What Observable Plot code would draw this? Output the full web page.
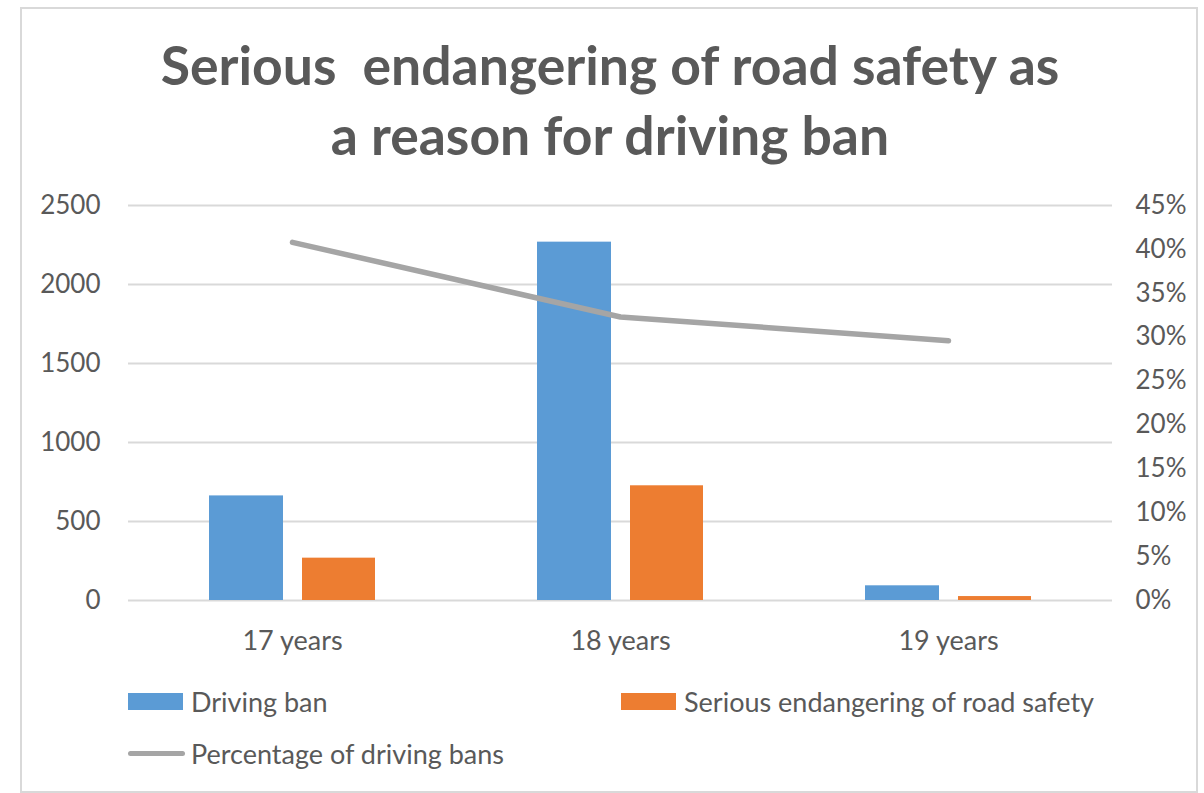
<!DOCTYPE html>
<html>
<head>
<meta charset="utf-8">
<script src="https://cdn.jsdelivr.net/npm/d3@7"></script>
<script src="https://cdn.jsdelivr.net/npm/@observablehq/plot@0.6"></script>
<style>
  html, body { margin: 0; padding: 0; background: #fff; }
  #wrap { position: relative; width: 1204px; height: 793px; overflow: hidden; font-family: Lato, "Open Sans", sans-serif; color: #595959; }
  #frame { position: absolute; left: 20px; top: 7px; width: 1178px; height: 786px; box-sizing: border-box; border: 2px solid #d9d9d9; }
  #title { position: absolute; left: 0; top: 29px; width: 1220px; text-align: center; font-weight: 700; font-size: 53.5px; line-height: 70px; white-space: pre; color: #595959; }
  #chart { position: absolute; left: 0; top: 170px; }
  .leg { position: absolute; display: flex; align-items: center; font-size: 27px; color: #595959; white-space: nowrap; }
  .sw { width: 55px; height: 17px; margin-right: 8px; }
  .ln { width: 57px; height: 5px; border-radius: 3px; margin-right: 6px; }
</style>
</head>
<body>
<div id="wrap">
  <div id="frame"></div>
  <div id="title"></div>
  <div id="chart"></div>
  <div id="legend"></div>
</div>
<script>
const titleLines = ["Serious  endangering of road safety as", "a reason for driving ban"];
const categories = ["17 years", "18 years", "19 years"];
const drivingBan = [662, 2268, 93];
const seriousEndangering = [268, 726, 25];
const pctDrivingBans = [0.408, 0.323, 0.296];
const leftTicks = [0, 500, 1000, 1500, 2000, 2500];
const rightTicks = [0, 0.05, 0.10, 0.15, 0.20, 0.25, 0.30, 0.35, 0.40, 0.45];
const seriesNames = ["Driving ban", "Serious endangering of road safety", "Percentage of driving bans"];
const seriesColors = ["#5B9BD5", "#ED7D31", "#A5A5A5"];

const leftMax = 2500, rightMax = 0.45;
const k = leftMax / rightMax;

const rows = categories.map((c, i) => ({cat: c, ban: drivingBan[i], serious: seriousEndangering[i], pct: pctDrivingBans[i]}));

document.getElementById("title").textContent = titleLines.join("\n");

const chart = Plot.plot({
  width: 1204,
  height: 500,
  marginTop: 35,
  marginBottom: 70,
  marginLeft: 128,
  marginRight: 92,
  style: {fontFamily: "Lato, 'Open Sans', sans-serif", fontSize: "26px", color: "#595959", background: "transparent"},
  x: {type: "band", domain: categories, padding: 0},
  y: {domain: [0, leftMax]},
  marks: [
    Plot.ruleY(leftTicks, {stroke: "#d9d9d9", strokeWidth: 2}),
    Plot.barY(rows, {x: "cat", y: "ban", fill: seriesColors[0], insetLeft: 81, insetRight: 173}),
    Plot.barY(rows, {x: "cat", y: "serious", fill: seriesColors[1], insetLeft: 174, insetRight: 81}),
    Plot.lineY(rows, {x: "cat", y: d => d.pct * k, stroke: seriesColors[2], strokeWidth: 5.5, strokeLinecap: "round", strokeLinejoin: "round"}),
    Plot.axisY({ticks: leftTicks, tickFormat: d => String(d), tickSize: 0, tickPadding: 28, label: null, fontSize: 26}),
    Plot.axisY({anchor: "right", ticks: rightTicks.map(t => t * k), tickFormat: v => Math.round(v / k * 100) + "%", tickSize: 0, tickPadding: 23, label: null, fontSize: 26}),
    Plot.axisX({tickSize: 0, tickPadding: 30, label: null, fontSize: 27})
  ]
});
document.getElementById("chart").appendChild(chart);

const legend = document.getElementById("legend");
const legPos = [[128, 701], [621, 701], [128, 753]];
seriesNames.forEach((name, i) => {
  const item = document.createElement("div");
  item.className = "leg";
  item.style.left = legPos[i][0] + "px";
  item.style.top = (legPos[i][1] - 18) + "px";
  item.style.height = "36px";
  const sw = document.createElement("div");
  sw.className = i < 2 ? "sw" : "ln";
  sw.style.background = seriesColors[i];
  const tx = document.createElement("span");
  tx.textContent = name;
  item.appendChild(sw);
  item.appendChild(tx);
  legend.appendChild(item);
});
</script>
</body>
</html>
